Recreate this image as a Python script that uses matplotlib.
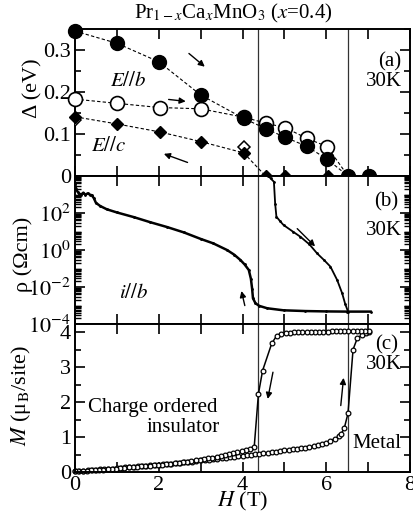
import numpy as np
import matplotlib
matplotlib.use('Agg')
import matplotlib.pyplot as plt
from matplotlib.ticker import MultipleLocator, LogLocator, FixedLocator, NullFormatter

plt.rcParams['font.family'] = ['Liberation Serif', 'DejaVu Serif']
plt.rcParams['mathtext.fontset'] = 'stix'

# ---- panel (a): optical gap vs field
h_eb_fill = [0, 1, 2, 3, 4.03, 4.55, 5.02, 5.53, 6.02, 6.52, 7.03]
gap_eb_fill = [0.345, 0.316, 0.272, 0.193, 0.137, 0.113, 0.092, 0.071, 0.040, 0.0, 0.0]
h_eb_open = [0, 1, 2.02, 3, 4.03, 4.55, 5.02, 5.53, 6.02, 6.52]
gap_eb_open = [0.183, 0.173, 0.163, 0.160, 0.140, 0.126, 0.115, 0.090, 0.070, 0.0]
h_ec_fill = [0, 1, 2.02, 3, 4.03, 4.55, 5.02, 6.05]
gap_ec_fill = [0.141, 0.124, 0.105, 0.082, 0.055, 0.0, 0.0, 0.0]
h_ec_open = [0, 4.03]
gap_ec_open = [0.133, 0.070]

# ---- panel (b): resistivity (log10 of rho in Ohm cm)
h_rho_down = [0, 0.03, 0.06, 0.1, 0.15, 0.2, 0.25, 0.3, 0.35, 0.4, 0.45, 0.5, 0.6, 0.76,
              1.0, 1.4, 1.8, 2.2, 2.6, 3.0, 3.3, 3.63, 3.8, 3.95, 4.05, 4.15, 4.2, 4.23,
              4.25, 4.31, 4.4, 4.59, 4.98, 5.5, 6.0, 6.5, 7.06]
logrho_down = [3.55, 3.3, 3.15, 3.05, 3.0, 3.1, 2.98, 3.06, 3.0, 2.96, 2.8, 2.55, 2.38, 2.2,
               2.03, 1.78, 1.5, 1.24, 0.95, 0.6, 0.36, 0.0, -0.25, -0.54, -0.78, -1.08, -1.55,
               -2.1, -2.61, -2.88, -3.02, -3.15, -3.26, -3.3, -3.32, -3.33, -3.33]
h_rho_up = [4.62, 4.67, 4.75, 4.78, 4.81, 4.9, 4.98, 5.2, 5.38, 5.6, 5.78, 5.95, 6.1,
            6.26, 6.38, 6.45, 6.52]
logrho_up = [4.0, 3.87, 3.69, 2.5, 1.8, 1.55, 1.35, 1.0, 0.72, 0.3, -0.18, -0.55, -0.9,
             -1.62, -2.34, -2.9, -3.33]

# ---- panel (c): magnetization
h_m_up = [0.0, 0.1, 0.2, 0.3, 0.4, 0.5, 0.6, 0.7, 0.8, 0.9, 1.0, 1.1, 1.2, 1.3, 1.4, 1.5,
          1.6, 1.7, 1.8, 1.9, 2.0, 2.1, 2.2, 2.3, 2.4, 2.5, 2.6, 2.7, 2.8, 2.9, 3.0, 3.1,
          3.2, 3.3, 3.4, 3.5, 3.6, 3.7, 3.8, 3.9, 4.0, 4.1, 4.2, 4.3, 4.4, 4.5, 4.6, 4.7,
          4.8, 4.9, 5.0, 5.1, 5.2, 5.3, 5.4, 5.5, 5.6, 5.7, 5.8, 5.9, 6.0, 6.1, 6.2, 6.3,
          6.35, 6.43, 6.52, 6.64, 6.74, 6.86, 6.95, 7.03]
m_up = [0.02, 0.03, 0.04, 0.05, 0.06, 0.07, 0.08, 0.08, 0.09, 0.10, 0.11, 0.12, 0.13,
        0.14, 0.15, 0.16, 0.17, 0.18, 0.19, 0.20, 0.21, 0.22, 0.23, 0.24, 0.25, 0.27,
        0.28, 0.29, 0.30, 0.32, 0.33, 0.34, 0.35, 0.37, 0.38, 0.39, 0.41, 0.42, 0.44,
        0.45, 0.47, 0.48, 0.50, 0.51, 0.52, 0.54, 0.55, 0.57, 0.58, 0.60, 0.62, 0.63,
        0.65, 0.66, 0.68, 0.70, 0.72, 0.74, 0.77, 0.80, 0.84, 0.89, 0.95, 1.02, 1.08,
        1.25, 1.68, 3.5, 3.82, 3.92, 3.98, 4.0]
h_m_down = [7.03, 6.93, 6.83, 6.73, 6.63, 6.53, 6.43, 6.33, 6.23, 6.13, 6.03, 5.93, 5.83,
            5.73, 5.63, 5.53, 5.43, 5.33, 5.23, 5.13, 5.03, 4.93, 4.82, 4.7, 4.48, 4.38,
            4.28, 4.18, 4.08, 3.98, 3.88, 3.78, 3.68, 3.58, 3.48, 3.38, 3.28, 3.18, 3.08,
            2.98, 2.88, 2.78, 2.68, 2.58, 2.48, 2.38, 2.28, 2.18, 2.08, 1.98, 1.88, 1.78,
            1.68, 1.58, 1.48, 1.38, 1.28, 1.18, 1.08, 0.98, 0.88, 0.78, 0.68, 0.58, 0.48,
            0.38, 0.28, 0.18, 0.08, 0.0]
m_down = [4.02, 4.02, 4.02, 4.02, 4.02, 4.02, 4.02, 4.02, 4.02, 4.02, 4.01, 4.01, 4.01,
          4.01, 4.01, 4.0, 4.0, 4.0, 3.99, 3.98, 3.97, 3.95, 3.9, 3.68, 2.9, 2.23,
          0.72, 0.66, 0.62, 0.59, 0.56, 0.54, 0.52, 0.49, 0.46, 0.44, 0.41, 0.39, 0.37,
          0.35, 0.33, 0.31, 0.30, 0.28, 0.26, 0.25, 0.24, 0.22, 0.21, 0.20, 0.19, 0.18,
          0.17, 0.16, 0.15, 0.14, 0.13, 0.12, 0.11, 0.10, 0.09, 0.08, 0.07, 0.06, 0.05,
          0.05, 0.04, 0.03, 0.02, 0.02]

h_lines = [4.37, 6.53]

fig = plt.figure(figsize=(4.14, 5.14), dpi=100)
left, width = 75 / 414, 335 / 414
ax_a = fig.add_axes([left, 338 / 514, width, 147 / 514])
ax_b = fig.add_axes([left, 190 / 514, width, 148 / 514])
ax_c = fig.add_axes([left, 42 / 514, width, 148 / 514])

lab_fs = 16
for ax in (ax_a, ax_b, ax_c):
    ax.set_xlim(0, 8)
    ax.xaxis.set_major_locator(MultipleLocator(2))
    ax.xaxis.set_minor_locator(MultipleLocator(1))
    ax.tick_params(which='both', direction='in', top=True, right=True, labelsize=lab_fs, pad=3)
    ax.tick_params(which='major', length=7, width=1.2)
    ax.tick_params(which='minor', length=7, width=1.2)
    for s in ax.spines.values():
        s.set_linewidth(1.4)
    for hv in h_lines:
        ax.axvline(hv, color='#333333', lw=0.9, zorder=1)
ax_a.tick_params(axis='x', labelbottom=False)
ax_b.tick_params(axis='x', labelbottom=False)
ax_a.tick_params(axis='y', which='minor', length=4)
ax_c.tick_params(axis='y', which='minor', length=4)

# (a)
ax_a.set_ylim(0, 0.35)
ax_a.yaxis.set_major_locator(FixedLocator([0, 0.1, 0.2, 0.3]))
ax_a.yaxis.set_minor_locator(MultipleLocator(0.05))
ax_a.set_yticklabels(['0', '0.1', '0.2', '0.3'])
dash = dict(color='k', ls=(0, (3, 2)), lw=0.8)
ax_a.plot(h_eb_open, gap_eb_open, **dash, zorder=2)
ax_a.plot(h_eb_open[:-1], gap_eb_open[:-1], 'o', ms=10, mfc='white', mec='k', mew=1.2,
          zorder=3, clip_on=False)
ax_a.plot(h_eb_fill, gap_eb_fill, **dash, zorder=4)
ax_a.plot(h_eb_fill, gap_eb_fill, 'o', ms=10, color='k', zorder=5, clip_on=False)
ax_a.plot(h_ec_fill, gap_ec_fill, **dash, zorder=2)
ax_a.plot(h_ec_open, gap_ec_open, 'D', ms=6, mfc='white', mec='k', mew=1.1, zorder=3)
ax_a.plot(h_ec_fill, gap_ec_fill, 'D', ms=6, color='k', zorder=4, clip_on=False)
arr = dict(arrowstyle='-|>', color='k', lw=1.0, mutation_scale=9)
ax_a.annotate('', xy=(3.15, 0.256), xytext=(2.67, 0.296), arrowprops=arr)
ax_a.annotate('', xy=(2.71, 0.177), xytext=(2.17, 0.183), arrowprops=arr)
ax_a.annotate('', xy=(2.06, 0.055), xytext=(2.75, 0.030), arrowprops=arr)
ax_a.text(1.27, 0.225, '$E//b$', fontsize=15, ha='center', va='center')
ax_a.text(0.8, 0.07, '$E//c$', fontsize=15, ha='center', va='center')
ax_a.text(0.975, 0.775, '(a)', transform=ax_a.transAxes, fontsize=15, ha='right', va='center')
ax_a.text(0.975, 0.64, '30K', transform=ax_a.transAxes, fontsize=15, ha='right', va='center')
ax_a.set_ylabel('Δ (eV)', fontsize=lab_fs)
ax_a.yaxis.set_label_coords(-0.098, 0.6)

# (b)
ax_b.set_yscale('log')
ax_b.set_ylim(1e-4, 1e4)
ax_b.yaxis.set_major_locator(FixedLocator([1e-4, 1e-2, 1e0, 1e2]))
ax_b.yaxis.set_minor_locator(LogLocator(base=10, subs=np.arange(1, 10), numticks=100))
ax_b.yaxis.set_minor_formatter(NullFormatter())
ax_b.set_yticklabels(['$10^{-4}$', '$10^{-2}$', '$10^{0}$', '$10^{2}$'])
ax_b.tick_params(axis='y', which='minor', length=4, width=1.0)
ax_b.plot(h_rho_down, 10 ** np.array(logrho_down), color='k', lw=1.8, marker='.', ms=2)
ax_b.plot(h_rho_up, 10 ** np.array(logrho_up), color='k', lw=1.3, marker='.', ms=2)
ax_b.annotate('', xy=(3.96, 10 ** -2.07), xytext=(4.07, 10 ** -3.15), arrowprops=arr)
ax_b.annotate('', xy=(5.78, 10 ** 0.09), xytext=(5.26, 10 ** 1.26), arrowprops=arr)
ax_b.text(1.39, 10 ** -2.34, '$i//b$', fontsize=15, ha='center', va='center')
ax_b.text(0.965, 0.826, '(b)', transform=ax_b.transAxes, fontsize=15, ha='right', va='center')
ax_b.text(0.975, 0.635, '30K', transform=ax_b.transAxes, fontsize=15, ha='right', va='center')
ax_b.set_ylabel('ρ (Ωcm)', fontsize=lab_fs)
ax_b.yaxis.set_label_coords(-0.125, 0.47)

# (c)
ax_c.set_ylim(0, 4.23)
ax_c.yaxis.set_major_locator(MultipleLocator(1))
ax_c.yaxis.set_minor_locator(MultipleLocator(0.5))
ax_c.plot(h_m_up, m_up, color='k', lw=1.1, marker='o', ms=3.4, mfc='white', mew=0.9,
          clip_on=False)
ax_c.plot(h_m_down, m_down, color='k', lw=1.1, marker='o', ms=3.4, mfc='white', mew=0.9,
          clip_on=False)
ax_c.annotate('', xy=(4.59, 2.01), xytext=(4.74, 2.93), arrowprops=arr)
ax_c.annotate('', xy=(6.42, 2.77), xytext=(6.34, 1.82), arrowprops=arr)
ax_c.text(0.31, 1.83, 'Charge ordered', fontsize=15, ha='left', va='center')
ax_c.text(1.72, 1.26, 'insulator', fontsize=15, ha='left', va='center')
ax_c.text(0.975, 0.19, 'Metal', transform=ax_c.transAxes, fontsize=15, ha='right', va='center')
ax_c.text(0.965, 0.858, '(c)', transform=ax_c.transAxes, fontsize=15, ha='right', va='center')
ax_c.text(0.975, 0.723, '30K', transform=ax_c.transAxes, fontsize=15, ha='right', va='center')
ax_c.set_ylabel(r'$M$ (μ$_{\rm B}$/site)', fontsize=lab_fs)
ax_c.yaxis.set_label_coords(-0.125, 0.52)
ax_c.set_xlabel(r'$H$ (T)', fontsize=lab_fs, labelpad=-3.5)

fig.text(233 / 414, 1 - 13 / 514, r'Pr$_{1-x}$Ca$_x$MnO$_3$ ($x$=0.4)', fontsize=15,
         ha='center', va='center')

fig.savefig('out.png', dpi=100)
